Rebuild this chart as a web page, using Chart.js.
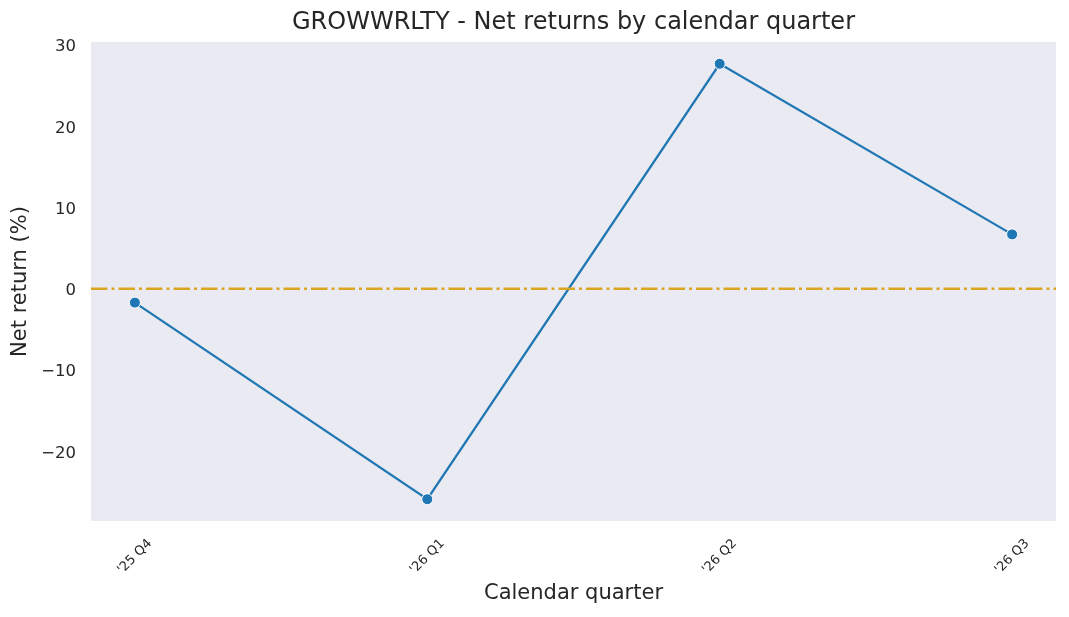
<!DOCTYPE html>
<html>
<head>
<meta charset="utf-8">
<script src="https://cdn.jsdelivr.net/npm/chart.js@4.4.1/dist/chart.umd.min.js"></script>
<style>
  html, body { margin: 0; padding: 0; background: #ffffff; }
  #wrap { width: 1069px; height: 617px; }
</style>
</head>
<body>
<div id="wrap"><canvas id="chart" width="1069" height="617"></canvas></div>
<script>
// values
const quarters = ["'25 Q4", "'26 Q1", "'26 Q2", "'26 Q3"];
const netReturns = [-1.7, -25.9, 27.7, 6.7];
const yTicks = [-20, -10, 0, 10, 20, 30];

const TEXT = '#262626';
const FONT = '"DejaVu Sans", "Liberation Sans", sans-serif';

// matplotlib style 5% margins around the data
const yMinData = Math.min(...netReturns);
const yMaxData = Math.max(...netReturns);
const yPad = (yMaxData - yMinData) * 0.05;
const xPad = (quarters.length - 1) * 0.05;

const decorPlugin = {
    id: 'decor',
    beforeDraw(chart) {
        const ctx = chart.ctx;
        const a = chart.chartArea;
        ctx.save();
        ctx.fillStyle = '#ffffff';
        ctx.fillRect(0, 0, chart.width, chart.height);
        ctx.fillStyle = '#EAEAF2';
        ctx.fillRect(a.left, a.top, a.right - a.left, a.bottom - a.top);
        ctx.restore();
    },
    afterDatasetsDraw(chart) {
        const ctx = chart.ctx;
        const a = chart.chartArea;
        const y0 = chart.scales.y.getPixelForValue(0);
        ctx.save();
        ctx.strokeStyle = '#DAA520';
        ctx.lineWidth = 2.5;
        ctx.setLineDash([16.5, 4, 3, 4]);
        ctx.beginPath();
        ctx.moveTo(a.left, y0);
        ctx.lineTo(a.right, y0);
        ctx.stroke();
        ctx.restore();
    },
    afterDraw(chart) {
        const ctx = chart.ctx;
        const a = chart.chartArea;
        const xs = chart.scales.x;
        const cx = (a.left + a.right) / 2;
        ctx.save();
        ctx.fillStyle = TEXT;

        // title
        ctx.font = `24px ${FONT}`;
        ctx.textAlign = 'center';
        ctx.textBaseline = 'middle';
        ctx.fillText('GROWWRLTY - Net returns by calendar quarter', cx, 23);

        // axis titles
        ctx.font = `21px ${FONT}`;
        ctx.fillText('Calendar quarter', cx, 594);
        ctx.save();
        ctx.translate(21, (a.top + a.bottom) / 2);
        ctx.rotate(-Math.PI / 2);
        ctx.fillText('Net return (%)', 0, 0);
        ctx.restore();

        // rotated x tick labels, bbox centred under the tick
        ctx.font = `13px ${FONT}`;
        quarters.forEach((q, i) => {
            const px = xs.getPixelForValue(i);
            const L = ctx.measureText(q).width;
            const h = 13;
            const H = (L + h) / Math.SQRT2;
            ctx.save();
            ctx.translate(px, a.bottom + 16 + H / 2);
            ctx.rotate(-Math.PI / 4);
            ctx.fillText(q, 0, 0);
            ctx.restore();
        });
        ctx.restore();
    }
};

new Chart(document.getElementById('chart'), {
    type: 'line',
    data: {
        datasets: [{
            data: netReturns.map((v, i) => ({ x: i, y: v })),
            borderColor: '#1f77b4',
            borderWidth: 2.3,
            pointRadius: 5.5,
            pointBackgroundColor: '#1f77b4',
            pointBorderColor: '#ffffff',
            pointBorderWidth: 1,
            tension: 0
        }]
    },
    options: {
        responsive: false,
        animation: false,
        devicePixelRatio: 1,
        layout: { padding: { top: 42, right: 13, left: 0, bottom: 0 } },
        plugins: {
            legend: { display: false },
            title: { display: false },
            tooltip: { enabled: false }
        },
        scales: {
            x: {
                type: 'linear',
                min: -xPad,
                max: quarters.length - 1 + xPad,
                grid: { display: false, drawTicks: false, tickLength: 0 },
                border: { display: false },
                ticks: { display: false },
                afterFit(scale) { scale.height = 96; }
            },
            y: {
                min: yMinData - yPad,
                max: yMaxData + yPad,
                grid: { display: false, drawTicks: false, tickLength: 0 },
                border: { display: false },
                afterBuildTicks(scale) {
                    scale.ticks = yTicks.map(v => ({ value: v }));
                },
                ticks: {
                    padding: 15,
                    labelOffset: 2,
                    color: TEXT,
                    font: { family: FONT, size: 16.5 },
                    callback: v => String(v).replace('-', '\u2212')
                },
                afterFit(scale) { scale.width = 91; }
            }
        }
    },
    plugins: [decorPlugin]
});
</script>
</body>
</html>
